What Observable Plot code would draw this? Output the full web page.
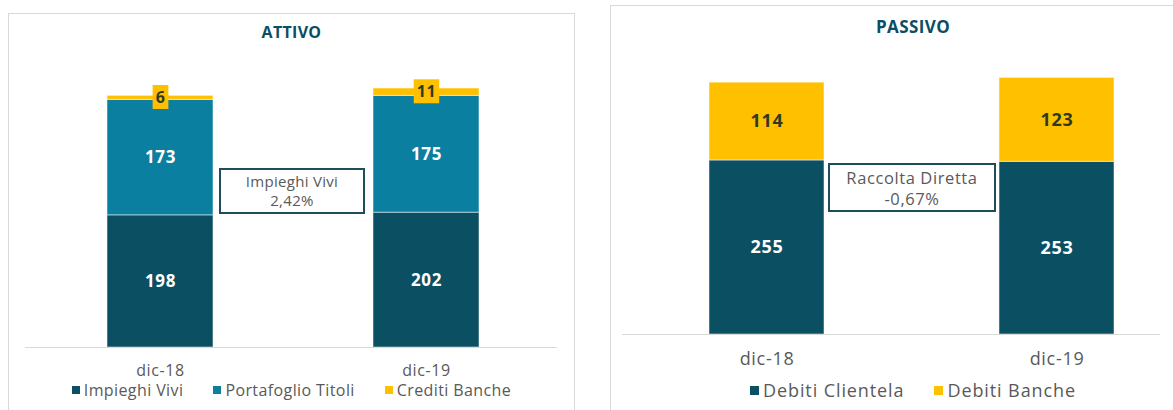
<!DOCTYPE html>
<html>
<head>
<meta charset="utf-8">
<script src="https://cdn.jsdelivr.net/npm/d3@7"></script>
<script src="https://cdn.jsdelivr.net/npm/@observablehq/plot@0.6"></script>
<style>
  html, body { margin: 0; padding: 0; background: #fff; }
  body { width: 1173px; height: 410px; overflow: hidden; position: relative; font-family: "Open Sans", sans-serif; }
  .panel { position: absolute; border: 1.5px solid #d9d9d9; box-sizing: border-box; background: #fff; }
  .title { position: absolute; text-align: center; font-weight: 700; color: #0b4f63; }
  .legend { position: absolute; display: flex; justify-content: center; align-items: center; color: #595959; white-space: nowrap; }
  .legend .item { display: flex; align-items: center; }
  .legend .sw { display: inline-block; margin-right: 4px; }
  .annot { position: absolute; box-sizing: border-box; border: 2px solid #1f4d5c; background: #fff; color: #595959;
           text-align: center; display: flex; flex-direction: column; justify-content: center; }
</style>
</head>
<body>
<script>
// ---------- DATA ----------
const periods = ["dic-18", "dic-19"];

const attivoTitle = "ATTIVO";
const attivoSeries = ["Impieghi Vivi", "Portafoglio Titoli", "Crediti Banche"];
const attivoColors = ["#0b4f63", "#0a7fa0", "#ffc000"];
const impieghiVivi = [198, 202];
const portafoglioTitoli = [173, 175];
const creditiBanche = [6, 11];
const attivoNote = ["Impieghi Vivi", "2,42%"];

const passivoTitle = "PASSIVO";
const passivoSeries = ["Debiti Clientela", "Debiti Banche"];
const passivoColors = ["#0b4f63", "#ffc000"];
const debitiClientela = [255, 253];
const debitiBanche = [114, 123];
const passivoNote = ["Raccolta Diretta", "-0,67%"];

// ---------- helpers ----------
function toRows(series, valuesList) {
  const rows = [];
  series.forEach((s, si) => periods.forEach((p, pi) => rows.push({period: p, series: s, value: valuesList[si][pi]})));
  return rows;
}
const attivoRows = toRows(attivoSeries, [impieghiVivi, portafoglioTitoli, creditiBanche]);
const passivoRows = toRows(passivoSeries, [debitiClientela, debitiBanche]);

function addDiv(cls, style, html) {
  const d = document.createElement("div");
  d.className = cls;
  Object.assign(d.style, style);
  if (html != null) d.innerHTML = html;
  document.body.appendChild(d);
  return d;
}

function legend(series, colors, style, sw, gap) {
  const lg = addDiv("legend", style);
  series.forEach((s, i) => {
    const it = document.createElement("div");
    it.className = "item";
    it.style.marginRight = i < series.length - 1 ? gap + "px" : "0";
    it.innerHTML = `<span class="sw" style="background:${colors[i]};width:${sw}px;height:${sw}px"></span><span>${s}</span>`;
    lg.appendChild(it);
  });
}

const BOXED_FILL = "#2f3a25";
function boxLabels(svg, textFill, boxFill, padX, padY) {
  const ns = "http://www.w3.org/2000/svg";
  svg.querySelectorAll(`g[fill="${textFill}"] text`).forEach(t => {
    if (!t.textContent.trim()) return;
    const b = t.getBBox();
    const r = document.createElementNS(ns, "rect");
    r.setAttribute("x", b.x - padX);
    r.setAttribute("y", b.y - padY);
    r.setAttribute("width", b.width + 2 * padX);
    r.setAttribute("height", b.height + 2 * padY);
    r.setAttribute("fill", boxFill);
    if (t.hasAttribute("transform")) r.setAttribute("transform", t.getAttribute("transform"));
    t.parentNode.insertBefore(r, t);
  });
}

// ---------- ATTIVO panel ----------
addDiv("panel", {left: "8px", top: "13px", width: "567px", height: "420px"});
addDiv("title", {left: "8px", width: "567px", top: "21px", fontSize: "16px", letterSpacing: "0.3px"}, attivoTitle);

const attivoPlot = Plot.plot({
  width: 567, height: 367,
  marginLeft: 17, marginRight: 18, marginTop: 67, marginBottom: 33,
  style: {fontFamily: "Open Sans", background: "transparent", overflow: "visible", letterSpacing: "0.6px"},
  x: {domain: periods, type: "band", paddingInner: 0.603, paddingOuter: 0.3015, align: 0.511, label: null},
  y: {domain: [0, 400], axis: null},
  color: {domain: attivoSeries, range: attivoColors},
  marks: [
    Plot.barY(attivoRows, Plot.stackY({x: "period", y: "value", fill: "series", z: "series",
      stroke: "#ffffff", strokeWidth: 1, strokeOpacity: 0.5})),
    Plot.ruleY([0], {stroke: "#d9d9d9", strokeWidth: 1}),
    Plot.text(attivoRows, Plot.stackY({x: "period", y: "value", z: "series",
      text: d => d.series === "Crediti Banche" ? "" : String(d.value),
      fill: "#ffffff", fontSize: 17, fontWeight: "bold"})),
    Plot.text(attivoRows, Plot.stackY({x: "period", y: "value", z: "series",
      text: d => d.series === "Crediti Banche" ? String(d.value) : "",
      fill: BOXED_FILL, fontSize: 16, fontWeight: "bold"})),
    Plot.axisX({tickSize: 0, tickPadding: 17, fontSize: 16, fill: "#595959", label: null})
  ]
});
attivoPlot.style.position = "absolute";
attivoPlot.style.left = "8px";
attivoPlot.style.top = "13px";
document.body.appendChild(attivoPlot);
boxLabels(attivoPlot, BOXED_FILL, "#ffc000", 3, 1);

addDiv("annot", {left: "219px", top: "168px", width: "146px", height: "46px", fontSize: "15px", lineHeight: "19px", letterSpacing: "0.3px"},
  attivoNote.map(s => `<div>${s}</div>`).join(""));
legend(attivoSeries, attivoColors, {left: "8px", width: "567px", top: "378px", height: "24px", fontSize: "16px", letterSpacing: "0.4px"}, 8, 30);

// ---------- PASSIVO panel ----------
addDiv("panel", {left: "610px", top: "5px", width: "606px", height: "420px"});
addDiv("title", {left: "610px", width: "606px", top: "15px", fontSize: "17px", letterSpacing: "0.4px"}, passivoTitle);

const passivoPlot = Plot.plot({
  width: 606, height: 367,
  marginLeft: 12, marginRight: 56, marginTop: 56, marginBottom: 38,
  style: {fontFamily: "Open Sans", background: "transparent", overflow: "visible", letterSpacing: "0.7px"},
  x: {domain: periods, type: "band", paddingInner: 0.603, paddingOuter: 0.229, align: 0.654, label: null},
  y: {domain: [0, 400], axis: null},
  color: {domain: passivoSeries, range: passivoColors},
  marks: [
    Plot.barY(passivoRows, Plot.stackY({x: "period", y: "value", fill: "series", z: "series",
      stroke: "#ffffff", strokeWidth: 1, strokeOpacity: 0.5})),
    Plot.ruleY([0], {stroke: "#d9d9d9", strokeWidth: 1}),
    Plot.text(passivoRows, Plot.stackY({x: "period", y: "value", z: "series",
      text: d => String(d.value),
      fill: d => d.series === "Debiti Banche" ? "#2f3a25" : "#ffffff", fontSize: 18, fontWeight: "bold"})),
    Plot.axisX({tickSize: 0, tickPadding: 18, fontSize: 18, fill: "#595959", label: null})
  ]
});
passivoPlot.style.position = "absolute";
passivoPlot.style.left = "610px";
passivoPlot.style.top = "5px";
document.body.appendChild(passivoPlot);

addDiv("annot", {left: "828px", top: "163px", width: "168px", height: "49px", fontSize: "16.5px", lineHeight: "21px", letterSpacing: "0.6px"},
  passivoNote.map(s => `<div>${s}</div>`).join(""));
legend(passivoSeries, passivoColors, {left: "610px", width: "606px", top: "377px", height: "26px", fontSize: "18px", letterSpacing: "0.9px"}, 9, 30);
</script>
</body>
</html>
